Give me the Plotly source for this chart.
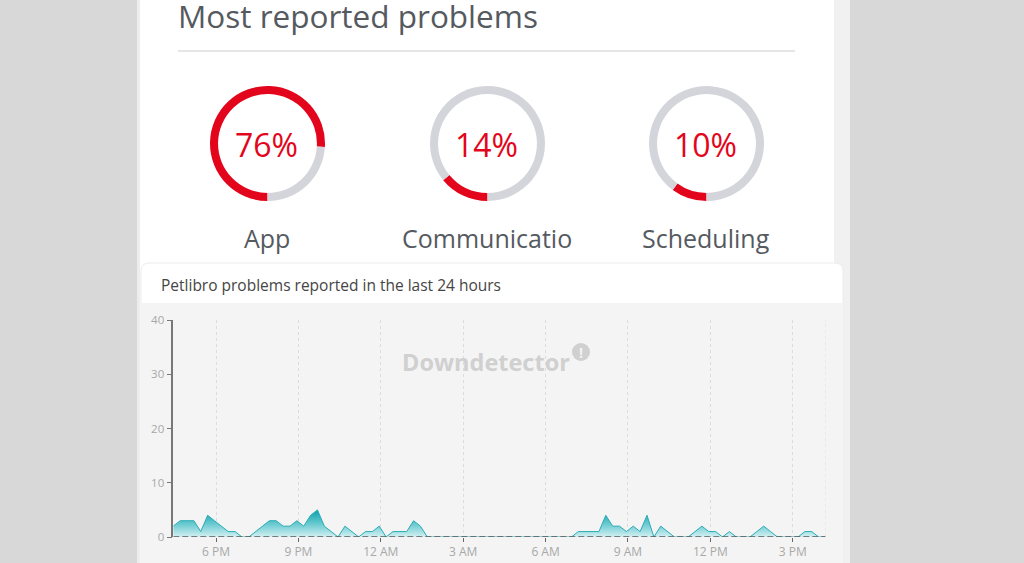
import plotly.graph_objects as go
import pandas as pd

W, H = 1024, 563

# ---------------- data ----------------
problem_labels = ["App", "Communicatio", "Scheduling"]
problem_pcts = [76, 14, 10]

reports = [2, 3, 3, 3, 1, 4, 3, 2, 1, 1, 0, 0,
           1, 2, 3, 3, 2, 2, 3, 2, 4, 5, 2, 1,
           0, 2, 1, 0, 1, 1, 2, 0, 1, 1, 1, 3,
           2, 0, 0, 0, 0, 0, 0, 0, 0, 0, 0, 0,
           0, 0, 0, 0, 0, 0, 0, 0, 0, 0, 0, 1,
           1, 1, 1, 4, 2, 2, 1, 2, 1, 4, 0, 2,
           1, 0, 0, 0, 1, 2, 1, 1, 0, 1, 0, 0,
           0, 1, 2, 1, 0, 0, 0, 0, 1, 1, 0, 0]
start_time = "2024-05-01 16:26:40"
times = pd.date_range(start_time, periods=len(reports), freq="15min")

x_tick_times = ["2024-05-01 18:00", "2024-05-01 21:00", "2024-05-02 00:00",
                "2024-05-02 03:00", "2024-05-02 06:00", "2024-05-02 09:00",
                "2024-05-02 12:00", "2024-05-02 15:00"]
x_tick_labels = ["6 PM", "9 PM", "12 AM", "3 AM", "6 AM", "9 AM", "12 PM", "3 PM"]
y_tick_vals = [0, 10, 20, 30, 40]


def px(x):
    return x / W


def py(y):
    return 1 - y / H


FONT = "Open Sans"
RED = "#e3051b"
RING_GRAY = "#d3d5da"
TEXT_GRAY = "#555a60"

fig = go.Figure()

# area chart
fig.add_trace(go.Scatter(
    x=times, y=reports, mode="lines", fill="tozeroy",
    line=dict(color="#2aabb5", width=1),
    fillgradient=dict(type="vertical",
                      colorscale=[[0, "#d4f0f2"], [0.45, "#79d0d6"], [1, "#1aa8b3"]],
                      start=0, stop=4.5),
    hoverinfo="skip", showlegend=False,
))

# donuts
centers = [(267.5, 143.5), (487.5, 143.5), (706.5, 143.5)]
R = 57.5
for (cx, cy), lab, p in zip(centers, problem_labels, problem_pcts):
    fig.add_trace(go.Pie(
        values=[p, 100 - p], labels=[lab, "other"], sort=False,
        direction="clockwise", rotation=180, hole=0.86,
        marker=dict(colors=[RED, RING_GRAY], line=dict(width=0)),
        textinfo="none", hoverinfo="skip", showlegend=False,
        domain=dict(x=[px(cx - R), px(cx + R)], y=[py(cy + R), py(cy - R)]),
    ))

shapes = []
# page side backgrounds
shapes.append(dict(type="rect", xref="paper", yref="paper", x0=0, x1=px(137), y0=0, y1=1,
                   fillcolor="#d8d8d8", line_width=0, layer="below"))
shapes.append(dict(type="rect", xref="paper", yref="paper", x0=px(834), x1=px(850), y0=0, y1=1,
                   fillcolor="#f1f1f1", line_width=0, layer="below"))
shapes.append(dict(type="rect", xref="paper", yref="paper", x0=px(850), x1=1, y0=0, y1=1,
                   fillcolor="#d8d8d8", line_width=0, layer="below"))
shapes.append(dict(type="rect", xref="paper", yref="paper", x0=px(137), x1=px(140), y0=0, y1=1,
                   fillcolor="#ededed", line_width=0, layer="below"))
# chart card
shapes.append(dict(type="path", xref="paper", yref="paper",
                   path=(f"M {px(141)} {py(570)} L {px(141)} {py(271)} Q {px(141)} {py(263)} {px(149)} {py(263)} "
                         f"L {px(835)} {py(263)} Q {px(843)} {py(263)} {px(843)} {py(271)} L {px(843)} {py(570)} Z"),
                   fillcolor="white", line=dict(color="#ececec", width=1), layer="below"))
shapes.append(dict(type="rect", xref="paper", yref="paper", x0=px(141.5), x1=px(842.5), y0=0, y1=py(303),
                   fillcolor="#f4f4f4", line_width=0, layer="below"))
# separator under the title
shapes.append(dict(type="line", xref="paper", yref="paper", x0=px(178), x1=px(795), y0=py(51), y1=py(51),
                   line=dict(color="#e6e6e6", width=2), layer="below"))
# end-of-range grid line
shapes.append(dict(type="line", xref="x", yref="y", x0=times[-1], x1=times[-1], y0=0, y1=40,
                   line=dict(color="#dcdcdc", width=1, dash="3px,3px"), layer="below"))
# dashed baseline
shapes.append(dict(type="line", xref="x", yref="y", x0=times[0], x1=times[-1], y0=0, y1=0,
                   line=dict(color="#555555", width=1.5, dash="6px,3px"), layer="above"))
# watermark badge
shapes.append(dict(type="circle", xref="paper", yref="paper",
                   x0=px(572), x1=px(590), y0=py(361), y1=py(343),
                   fillcolor="#d0d0d0", line_width=0, layer="below"))

annotations = []
annotations.append(dict(text="Most reported problems", x=px(176), y=py(15), xref="paper", yref="paper",
                        xanchor="left", yanchor="middle", showarrow=False,
                        font=dict(family=FONT, size=31.5, color=TEXT_GRAY)))
for (cx, cy), lab, p in zip(centers, problem_labels, problem_pcts):
    annotations.append(dict(text=f"{p}%", x=px(cx - 1), y=py(cy + 1), xref="paper", yref="paper",
                            xanchor="center", yanchor="middle", showarrow=False,
                            font=dict(family=FONT, size=32, color=RED)))
    annotations.append(dict(text=lab, x=px(cx - 0.5), y=py(238), xref="paper", yref="paper",
                            xanchor="center", yanchor="middle", showarrow=False,
                            font=dict(family=FONT, size=25, color=TEXT_GRAY)))
annotations.append(dict(text="Petlibro problems reported in the last 24 hours", x=px(159), y=py(285),
                        xref="paper", yref="paper", xanchor="left", yanchor="middle", showarrow=False,
                        font=dict(family=FONT, size=15.5, color="#454545")))
annotations.append(dict(text="<b>Downdetector</b>", x=px(485.5), y=py(362), xref="paper", yref="paper",
                        xanchor="center", yanchor="middle", showarrow=False,
                        font=dict(family=FONT, size=23.5, color="#d0d0d0")))
annotations.append(dict(text="<b>!</b>", x=px(581), y=py(352), xref="paper", yref="paper",
                        xanchor="center", yanchor="middle", showarrow=False,
                        font=dict(family=FONT, size=14, color="#f4f4f4")))

fig.update_layout(
    width=W, height=H, margin=dict(l=0, r=0, t=0, b=0, autoexpand=False),
    paper_bgcolor="white", plot_bgcolor="rgba(0,0,0,0)",
    shapes=shapes, annotations=annotations,
    xaxis=dict(domain=[px(173.3), px(825.5)], range=[times[0], times[-1]],
               tickvals=pd.to_datetime(x_tick_times), ticktext=x_tick_labels,
               showgrid=True, gridcolor="#dcdcdc", griddash="3px,3px", gridwidth=1,
               ticks="outside", ticklen=4, tickcolor="#666", showline=False, zeroline=False,
               automargin=False,
               tickfont=dict(family=FONT, size=12, color="#a8a8a8"), fixedrange=True),
    yaxis=dict(domain=[py(537), py(320)], range=[0, 40], tickvals=y_tick_vals,
               showgrid=False, zeroline=False, showline=True, linecolor="#777", linewidth=1.5,
               ticks="outside", ticklen=5, tickcolor="#777", automargin=False,
               tickfont=dict(family=FONT, size=11.5, color="#a8a8a8"), fixedrange=True),
)

fig.write_html("out.html", config={"displayModeBar": False},
               post_script="document.body.style.margin='0';")
